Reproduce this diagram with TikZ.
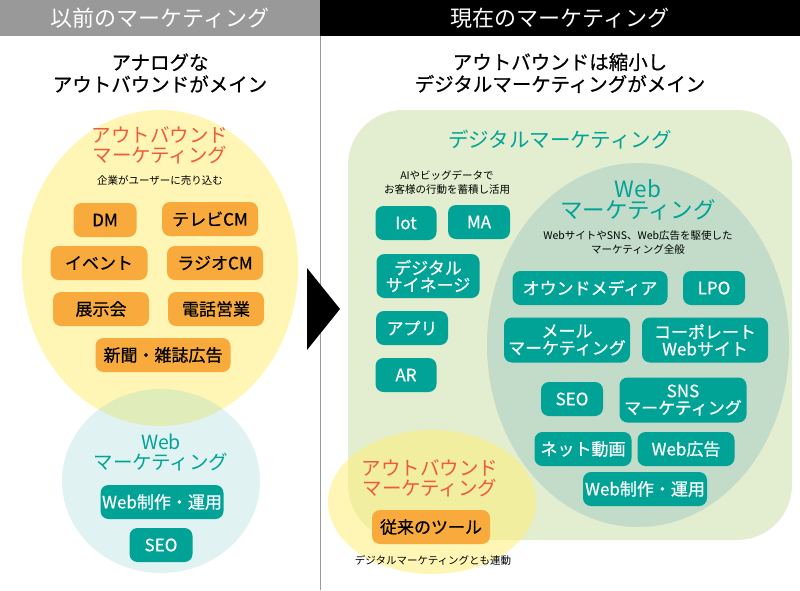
\documentclass[tikz,border=0pt]{standalone}
\usepackage{fontspec}
\setmainfont{Noto Sans CJK JP}
\newfontfamily\medfont{Noto Sans CJK JP}[FakeBold=0.6]
\usetikzlibrary{positioning}
\definecolor{tealbox}{HTML}{00A396}
\definecolor{orangebox}{HTML}{F9AA3C}
\definecolor{redtext}{HTML}{F05A3A}
\definecolor{headgray}{HTML}{999999}
\definecolor{digigreen}{HTML}{E2EECF}
\definecolor{webgreen}{HTML}{C2DCC9}
\definecolor{outyellow}{HTML}{FFEF78}
\definecolor{webblue}{HTML}{84CFCB}
\tikzset{
  obox/.style={fill=orangebox, rounded corners=8pt, inner sep=0pt, minimum height=34pt,
    font=\medfont\fontsize{17}{18}\selectfont},
  tbox/.style={fill=tealbox, text=white, rounded corners=8pt, inner sep=0pt, minimum height=34pt,
    align=center, font=\medfont\fontsize{17}{17}\selectfont},
  title/.style={align=center, font=\fontsize{19.5}{20}\selectfont},
  note/.style={align=center, font=\fontsize{10.5}{14}\selectfont},
}
\begin{document}
\begin{tikzpicture}[x=1pt, y=-1pt]
    \useasboundingbox (0,0) rectangle (800,590);
    % headers
    \fill[headgray] (0,0) rectangle (320,36);
    \fill[black] (320,0) rectangle (800,36);
    \draw[headgray, line width=1pt] (320,36) -- (320,590);
    \node[text=white, font=\fontsize{22}{22}\selectfont] (oldhead) at (160,18) {以前のマーケティング};
    \node[text=white, font=\fontsize{22}{22}\selectfont] (newhead) at (560,18) {現在のマーケティング};
    \node[font=\medfont\fontsize{19.5}{22}\selectfont, align=center] (oldsub) at (160,73) {アナログな\\アウトバウンドがメイン};
    \node[font=\medfont\fontsize{19.5}{22}\selectfont, align=center] (newsub) at (560,73) {アウトバウンドは縮小し\\デジタルマーケティングがメイン};

    % left side
    \fill[outyellow, fill opacity=0.55] (160,268) ellipse [x radius=138, y radius=158];
    \fill[webblue, fill opacity=0.25] (161,481) ellipse [x radius=99, y radius=92];
    \node[title, text=redtext] (oldout) at (160,145) {アウトバウンド\\マーケティング};
    \node[note] (oldoutnote) at (160,180) {企業がユーザーに売り込む};
    \node[obox, minimum width=63pt] (dm) at (105,220) {DM};
    \node[obox, minimum width=96pt] (tv) at (210,219) {テレビCM};
    \node[obox, minimum width=97pt] (event) at (99,263) {イベント};
    \node[obox, minimum width=96pt] (radio) at (215,263) {ラジオCM};
    \node[obox, minimum width=96pt] (expo) at (101,309) {展示会};
    \node[obox, minimum width=96pt] (phone) at (216,309) {電話営業};
    \node[obox, minimum width=135pt] (paper) at (163,355) {新聞・雑誌広告};
    \node[title, text=tealbox] (oldweb) at (161,452) {Web\\マーケティング};
    \node[tbox, minimum width=123pt] (oldmake) at (162,502) {Web制作・運用};
    \node[tbox, minimum width=63pt] (oldseo) at (161,545) {SEO};

    % arrow
    \fill[black] (307,268) -- (340,309) -- (307,350) -- cycle;

    % right side
    \fill[digigreen] (348,110) [rounded corners=55pt] rectangle (792,540);
    \fill[webgreen] (638,345) ellipse [x radius=151, y radius=182];
    \fill[outyellow, fill opacity=0.55] (432,502) ellipse [x radius=104, y radius=72];
    \node[text=tealbox, font=\fontsize{20.5}{22}\selectfont] (digi) at (560,140) {デジタルマーケティング};
    \node[note] (diginote) at (447,182) {AIやビッグデータで\\お客様の行動を蓄積し活用};
    \node[tbox, minimum width=61pt] (iot) at (406,223) {Iot};
    \node[tbox, minimum width=62pt] (ma) at (479,222) {MA};
    \node[tbox, minimum width=103pt, minimum height=44pt] (signage) at (428,276) {デジタル\\サイネージ};
    \node[tbox, minimum width=72pt] (app) at (412,328) {アプリ};
    \node[tbox, minimum width=61pt] (ar) at (406,375) {AR};
    \node[text=tealbox, align=center, font=\fontsize{22.5}{21}\selectfont] (newweb) at (638,200) {Web\\マーケティング};
    \node[note] (webnote) at (638,243) {WebサイトやSNS、Web広告を駆使した\\マーケティング全般};
    \node[tbox, minimum width=155pt] (owned) at (590,288) {オウンドメディア};
    \node[tbox, minimum width=62pt] (lpo) at (714,288) {LPO};
    \node[tbox, minimum width=126pt, minimum height=45pt] (mail) at (567,340) {メール\\マーケティング};
    \node[tbox, minimum width=126pt, minimum height=45pt] (corp) at (705,340) {コーポレート\\Webサイト};
    \node[tbox, minimum width=62pt] (newseo) at (572,399) {SEO};
    \node[tbox, minimum width=127pt, minimum height=45pt] (sns) at (683,400) {SNS\\マーケティング};
    \node[tbox, minimum width=97pt] (movie) at (583,449) {ネット動画};
    \node[tbox, minimum width=97pt] (ads) at (686,449) {Web広告};
    \node[tbox, minimum width=124pt] (newmake) at (645,489) {Web制作・運用};
    \node[title, text=redtext] (newout) at (430,478) {アウトバウンド\\マーケティング};
    \node[obox, minimum width=118pt] (tools) at (431,527) {従来のツール};
    \node[note] (toolnote) at (433,560) {デジタルマーケティングとも連動};
\end{tikzpicture}
\end{document}
